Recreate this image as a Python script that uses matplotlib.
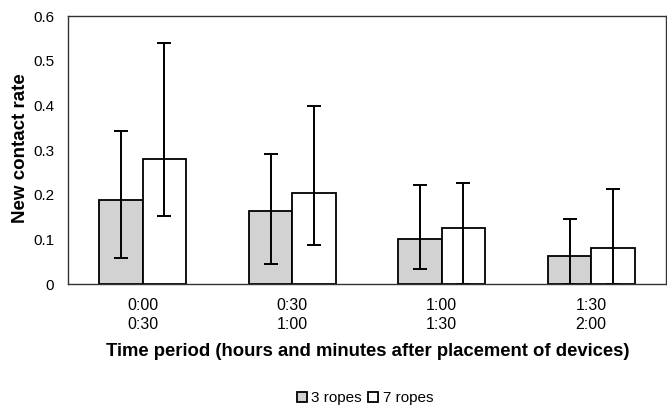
import matplotlib
matplotlib.use("Agg")
import matplotlib.pyplot as plt
import numpy as np

plt.rcParams['font.family'] = ['Liberation Sans', 'DejaVu Sans']

categories = ["0:00\n0:30", "0:30\n1:00", "1:00\n1:30", "1:30\n2:00"]
series_names = ["3 ropes", "7 ropes"]
ropes3 = [0.189, 0.164, 0.100, 0.063]
ropes3_hi = [0.343, 0.291, 0.221, 0.146]
ropes3_lo = [0.058, 0.045, 0.034, 0.0]
ropes7 = [0.280, 0.203, 0.126, 0.081]
ropes7_hi = [0.539, 0.398, 0.226, 0.213]
ropes7_lo = [0.153, 0.087, 0.0, 0.0]

fig = plt.figure(figsize=(6.67, 4.12), dpi=100)
ax = fig.add_axes([68/667, 1-284/412, 598/667, 268/412])

x = np.arange(len(categories))
w = 0.29
v3 = np.array(ropes3); v7 = np.array(ropes7)
err3 = [v3 - np.array(ropes3_lo), np.array(ropes3_hi) - v3]
err7 = [v7 - np.array(ropes7_lo), np.array(ropes7_hi) - v7]

ax.bar(x - w/2, v3, w, color='#d2d2d2', edgecolor='black', linewidth=1.3,
       label=series_names[0], yerr=err3,
       error_kw=dict(ecolor='black', elinewidth=1.4, capsize=5, capthick=1.4))
ax.bar(x + w/2, v7, w, color='white', edgecolor='black', linewidth=1.3,
       label=series_names[1], yerr=err7,
       error_kw=dict(ecolor='black', elinewidth=1.4, capsize=5, capthick=1.4))

ax.set_xlim(-0.5, len(categories) - 0.5)
ax.set_ylim(0, 0.6)
ax.set_yticks([0, 0.1, 0.2, 0.3, 0.4, 0.5, 0.6])
ax.set_yticklabels(['0', '0.1', '0.2', '0.3', '0.4', '0.5', '0.6'])
ax.set_xticks(x)
ax.set_xticklabels(categories, fontsize=11.5, linespacing=1.32)
ax.tick_params(axis='y', length=0, labelsize=11, pad=10)
ax.tick_params(axis='x', length=0, pad=10)
for s in ax.spines.values():
    s.set_linewidth(1.0)
    s.set_color('#333333')

fig.text(21/667, 1-148.5/412, 'New contact rate', rotation=90,
         fontsize=13.5, fontweight='bold', ha='center', va='center')
fig.text(367.5/667, 1-351.7/412,
         'Time period (hours and minutes after placement of devices)',
         fontsize=13.3, fontweight='bold', ha='center', va='center')

fig.legend(loc='center', bbox_to_anchor=(365/667, 1-398/412), ncol=2,
           frameon=False, fontsize=11, handlelength=0.65, handleheight=0.65,
           handletextpad=0.3, columnspacing=0.4)

fig.savefig('out.png', dpi=100)
